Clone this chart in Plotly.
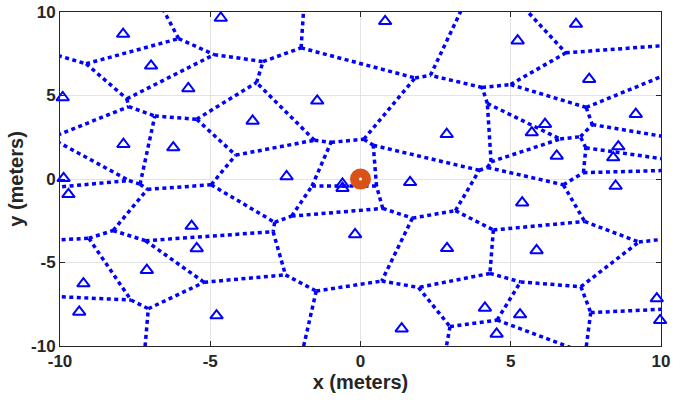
import numpy as np
import plotly.graph_objects as go

# Sites (triangles)
site_x = [-7.90, -4.65, -6.97, -5.73, -9.91, -3.59, -7.89, -6.23, -9.88, -9.72,
          0.82, -1.44, 2.87, -2.46, -0.60, -0.60, 1.65,
          7.17, 5.23, 7.61, 9.16, 6.14, 5.70, 6.53, 8.58, 8.41, 8.49, 5.38,
          5.86, 9.86, 9.97, 4.14, 5.31, 4.53, 2.88, -0.18, 1.37,
          -5.62, -5.45, -7.11, -9.22, -9.36, -4.79]
site_y = [8.68, 9.64, 6.78, 5.42, 4.88, 3.48, 2.08, 1.88, 0.04, -0.92,
          9.44, 4.68, 2.68, 0.15, -0.30, -0.55, -0.20,
          9.28, 8.28, 5.98, 3.88, 3.28, 2.78, 1.38, 1.94, 1.28, -0.42, -1.42,
          -4.28, -7.16, -8.46, -7.72, -8.12, -9.28, -4.15, -3.32, -8.96,
          -2.82, -4.16, -5.46, -6.26, -7.96, -8.18]

# Reference point (circle)
ref_x = [0.0]
ref_y = [0.0]

x_ticks = [-10, -5, 0, 5, 10]
y_ticks = [-10, -5, 0, 5, 10]


def voronoi_edges(xs, ys, lim=40.0):
    P = np.column_stack([xs, ys]).astype(float)
    n = len(P)
    segs = []
    for i in range(n):
        poly = [np.array([-lim, -lim]), np.array([lim, -lim]),
                np.array([lim, lim]), np.array([-lim, lim])]
        labs = [-1, -1, -1, -1]
        for j in range(n):
            if j == i:
                continue
            d = P[j] - P[i]
            m = (P[j] + P[i]) / 2
            out, outl = [], []
            k = len(poly)
            for q in range(k):
                a = poly[q]
                b = poly[(q + 1) % k]
                L = labs[q]
                fa = np.dot(a - m, d)
                fb = np.dot(b - m, d)
                if fa <= 0:
                    out.append(a); outl.append(L)
                    if fb > 0:
                        t = fa / (fa - fb)
                        out.append(a + t * (b - a)); outl.append(j)
                else:
                    if fb <= 0:
                        t = fa / (fa - fb)
                        out.append(a + t * (b - a)); outl.append(L)
            poly, labs = out, outl
        k = len(poly)
        for q in range(k):
            if labs[q] > i:
                segs.append((poly[q], poly[(q + 1) % k]))
    ex, ey = [], []
    for a, b in segs:
        ex += [a[0], b[0], None]
        ey += [a[1], b[1], None]
    return ex, ey


ex, ey = voronoi_edges(site_x, site_y)

FONT = "Liberation Sans, Arial, Helvetica, sans-serif"

fig = go.Figure()
fig.add_trace(go.Scatter(
    x=ex, y=ey, mode="lines",
    line=dict(color="#0000ff", width=3.5, dash="4px,3.5px"),
    hoverinfo="skip", showlegend=False))
fig.add_trace(go.Scatter(
    x=site_x, y=site_y, mode="markers",
    marker=dict(symbol="triangle-up-open", size=11, color="#0000ff",
                line=dict(width=2, color="#0000ff")),
    cliponaxis=False, showlegend=False))
fig.add_trace(go.Scatter(
    x=ref_x, y=ref_y, mode="markers",
    marker=dict(symbol="circle", size=21, color="#D95319",
                line=dict(width=0)),
    cliponaxis=False, showlegend=False))
fig.add_trace(go.Scatter(
    x=ref_x, y=ref_y, mode="markers",
    marker=dict(symbol="circle", size=3, color="white"),
    cliponaxis=False, showlegend=False))

axis_common = dict(
    showgrid=True, gridcolor="#e3e3e3", gridwidth=1,
    zeroline=False, showline=True, linecolor="#262626", linewidth=1,
    mirror="ticks", ticks="inside", ticklen=5, tickcolor="#262626",
    automargin=False,
    tickfont=dict(family=FONT, size=17, color="#262626", weight="bold"),
)

fig.update_xaxes(range=[-10, 10], tickvals=x_ticks,
                 ticktext=[str(v) for v in x_ticks],
                 title=dict(text="<b>x (meters)</b>", standoff=2,
                            font=dict(family=FONT, size=20, color="#262626")),
                 **axis_common)
fig.update_yaxes(range=[-10, 10], tickvals=y_ticks,
                 ticktext=[str(v) for v in y_ticks],
                 title=dict(text="<b>y (meters)</b>", standoff=2,
                            font=dict(family=FONT, size=20, color="#262626")),
                 **axis_common)

fig.update_layout(
    width=673, height=403,
    margin=dict(l=60, r=12, t=12, b=57),
    plot_bgcolor="white", paper_bgcolor="white",
    showlegend=False,
)

fig.write_html("out.html",
               config={"displayModeBar": False},
               post_script="document.body.style.margin='0px';"
                           "document.body.style.overflow='hidden';")
